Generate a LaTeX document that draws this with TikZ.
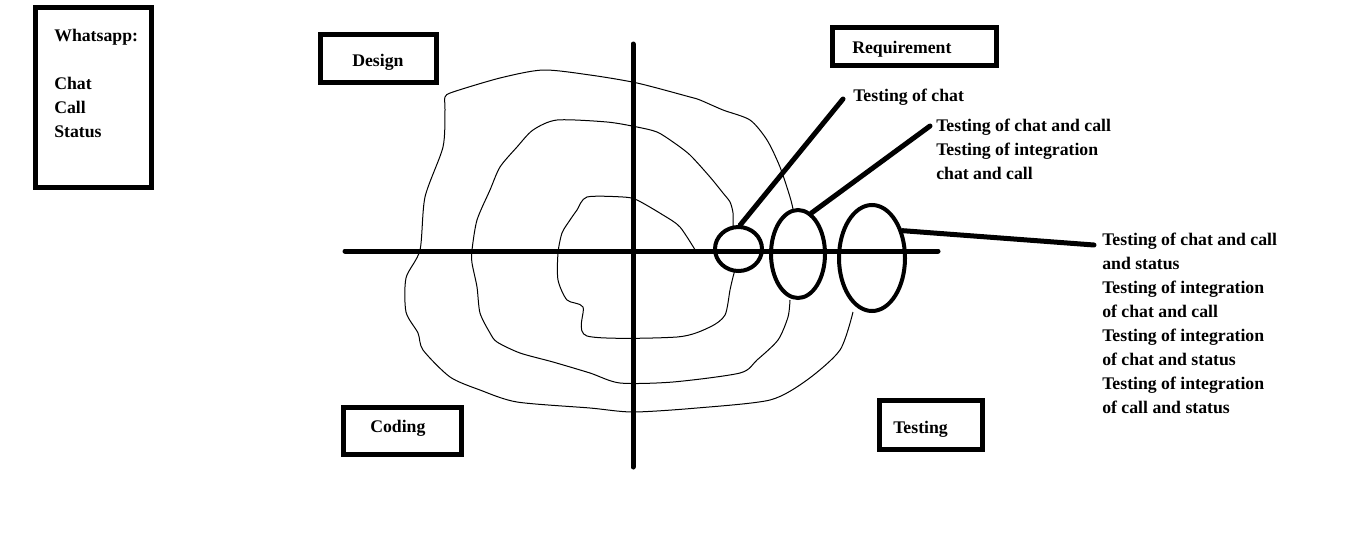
\documentclass[tikz,border=0pt]{standalone}
\usepackage{fontspec}
\setmainfont{Liberation Serif}
\usetikzlibrary{shapes.geometric}
\begin{document}
\begin{tikzpicture}[x=0.75pt,y=-0.75pt,
  boxst/.style={draw,line width=3.75pt,rectangle,inner sep=0pt},
  txt/.style={font=\fontsize{13.3}{18}\selectfont\bfseries,inner sep=0pt,align=left,anchor=base west},
  thick5/.style={line width=3.75pt,line cap=round},
  ring/.style={draw,line width=3pt,ellipse,inner sep=0pt},
  contour/.style={line width=0.75pt,smooth,tension=0.45}]
\useasboundingbox (0,0) rectangle (1355,557);
% boxes
\node[boxst,minimum width=87pt,minimum height=135pt] (wa) at (93.5,97.5) {};
\node[boxst,minimum width=87pt,minimum height=36pt] (design) at (378.5,58.5) {};
\node[boxst,minimum width=123pt,minimum height=28.5pt] (req) at (914.5,46.5) {};
\node[boxst,minimum width=88.5pt,minimum height=35.25pt] (coding) at (402.5,431) {};
\node[boxst,minimum width=77.25pt,minimum height=36.75pt] (testing) at (931,425) {};
% box texts (multi-line nodes are placed by the baseline of their last line)
\node[txt] (watxt) at (54,137) {Whatsapp:\\[18pt]Chat\\Call\\Status};
\node[txt] (designtxt) at (352,66) {Design};
\node[txt] (reqtxt) at (852,53) {Requirement};
\node[txt] (codingtxt) at (370,432) {Coding};
\node[txt] (testingtxt) at (893,433) {Testing};
% contours
\draw[contour] plot coordinates {(697,253) (680,227) (663,215) (637,200) (623,197) (587,197) (577,210) (570,220) (562,233) (558,253) (558,280) (567,300) (583,307) (587,336) (677,337) (710,327) (725,315) (730,290) (733,277) (735,270)};
\draw[contour] plot coordinates {(733,228) (733,213) (730,202) (723,193) (710,177) (690,155) (673,142) (657,132) (637,127) (607,122) (557,120) (533,130) (517,147) (500,167) (490,190) (477,220) (472,250) (472,263) (477,287) (480,313) (490,333) (497,342) (520,353) (553,362) (590,373) (620,383) (673,382) (740,373) (757,360) (778,340) (788,317) (790,300)};
\draw[contour] plot coordinates {(793,209) (790,197) (780,167) (767,140) (750,120) (723,110) (700,100) (690,97) (637,83) (590,75) (543,70) (500,78) (453,92) (445,97) (445,110) (443,147) (425,197) (420,250) (406,278) (406,312) (418,333) (423,350) (450,377) (480,390) (517,402) (590,408) (633,412) (697,408) (770,400) (807,380) (840,350) (853,312)};
% axes
\coordinate (hl) at (345,251);
\coordinate (hr) at (938,251);
\coordinate (vt) at (633,44);
\coordinate (vb) at (633,467);
\draw[thick5] (hl) -- (hr);
\draw[thick5] (vt) -- (vb);
% rings
\node[ring,minimum width=35.25pt,minimum height=33pt] (c1) at (738.5,249) {};
\node[ring,minimum width=40.5pt,minimum height=66pt] (c2) at (798,254) {};
\node[ring,minimum width=49.5pt,minimum height=79.5pt] (c3) at (872,258) {};
% labels
\node[txt] (t1) at (853,101) {Testing of chat};
\node[txt] (t2) at (936,179) {Testing of chat and call\\Testing of integration\\chat and call};
\node[txt] (t3) at (1102,413) {Testing of chat and call\\and status\\Testing of integration\\of chat and call\\Testing of integration\\of chat and status\\Testing of integration\\of call and status};
% connectors
\coordinate (e1) at (843,99);
\coordinate (e2) at (930,126);
\coordinate (e3) at (1094,245);
\draw[thick5] (c1.86) -- (e1);
\draw[thick5] (c2.72) -- (e2);
\draw[thick5] (c3.42) -- (e3);
\end{tikzpicture}
\end{document}
